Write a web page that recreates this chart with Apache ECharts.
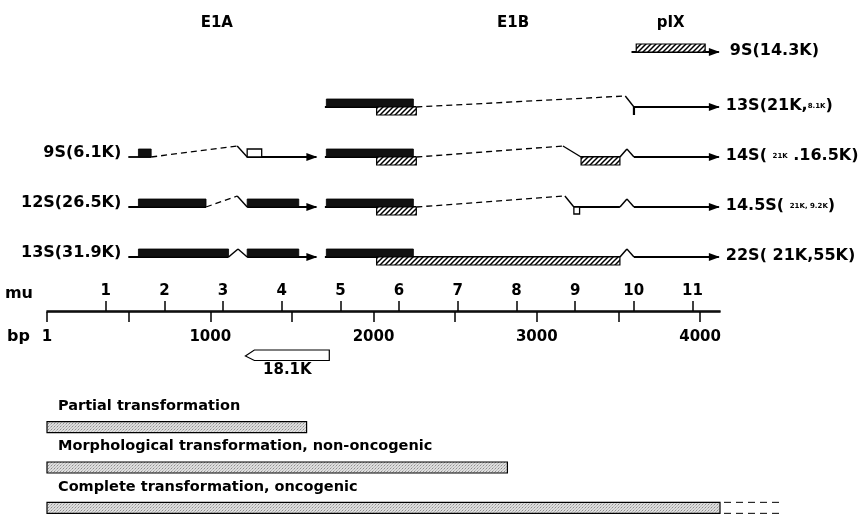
<!DOCTYPE html>
<html>
<head>
<meta charset="utf-8">
<script src="https://cdn.jsdelivr.net/npm/echarts@6.0.0/dist/echarts.min.js"></script>
<style>html,body{margin:0;padding:0;background:#fff;}#chart{width:863px;height:514px;}</style>
</head>
<body>
<div id="chart"></div>
<script>
// ---------------- data (bp coordinates) ----------------
const BP_MAX = 4122;
const BP_PER_MU = 359.4;
const bpTickValues = [0, 500, 1000, 1500, 2000, 2500, 3000, 3500, 4000];
const bpLabelValues = [0, 1000, 2000, 3000, 4000];
const muLabelValues = [1, 2, 3, 4, 5, 6, 7, 8, 9, 10, 11];

const regionNames = ['E1A', 'E1B', 'pIX'];
const regionCenters = [1040, 2855, 3820];

const transcriptRows = ['pIX', 'E1B 13S', 'E1A 9S / E1B 14S', 'E1A 12S / E1B 14.5S', 'E1A 13S / E1B 22S'];
const leftLabels = ['', '', '9S(6.1K)', '12S(26.5K)', '13S(31.9K)'];
const rightLabels = ['9S(14.3K)', '13S(21K,{s|8.1K})', '14S( {s|21K} .16.5K)', '14.5S( {s|21K, 9.2K})', '22S( 21K,55K)'];
const E1A_CAP = 498;
const MRNA_END = 4115;

// [row, start, end]
const lineSegments = [
  [0, 3580, 4115],
  [1, 1702, 2260], [1, 3595, 4115],
  [2, 498, 638], [2, 1226, 1650], [2, 1702, 2260], [2, 3271, 3509], [2, 3595, 4115],
  [3, 498, 974], [3, 1226, 1650], [3, 1702, 2260], [3, 3227, 3509], [3, 3595, 4115],
  [4, 498, 1112], [4, 1226, 1650], [4, 1702, 3509], [4, 3595, 4115]
];
// [row, tip]
const arrowTips = [[0, 4115], [1, 4115], [2, 1650], [2, 4115], [3, 1650], [3, 4115], [4, 1650], [4, 4115]];
// [row, start, end]
const blackExons = [
  [1, 1711, 2244],
  [2, 560, 638], [2, 1711, 2244],
  [3, 560, 974], [3, 1226, 1542], [3, 1711, 2244],
  [4, 560, 1112], [4, 1226, 1542], [4, 1711, 2244]
];
const hatchedBelow = [[1, 2019, 2262], [2, 2019, 2262], [2, 3271, 3509], [3, 2019, 2262], [4, 2019, 3509]];
const hatchedAbove = [[0, 3609, 4031]];
const openAbove = [[2, 1226, 1315]];
const openBelow = [[3, 3227, 3262]];
// [row, donor, peak, acceptor, dashed(1)/short(0)]
const introns = [
  [1, 2262, 3542, 3595, 1],
  [2, 638, 1165, 1226, 1], [2, 2262, 3160, 3271, 1], [2, 3509, 3552, 3595, 0],
  [3, 974, 1165, 1226, 1], [3, 2262, 3172, 3227, 1], [3, 3509, 3552, 3595, 0],
  [4, 1112, 1170, 1226, 0], [4, 3509, 3552, 3595, 0]
];
const ticksDown = [[1, 3595]];

const orfName = ['18.1K'];
const orfStart = [1729];
const orfEnd = [1215];

const transformLabels = ['Partial transformation', 'Morphological transformation, non-oncogenic', 'Complete transformation, oncogenic'];
const transformEnds = [1590, 2820, 4122];
const transformUncertainEnds = [0, 0, 4500];

// ---------------- drawing ----------------
const FONT = 'DejaVu Sans';
const LW = 1.8;
const ROW_NUDGE = [-5, 0, 0, 0, 0];
const EXON_H = 8;

function makeHatch() {
  const c = document.createElement('canvas'); c.width = 5; c.height = 5;
  const g = c.getContext('2d');
  g.fillStyle = '#fff'; g.fillRect(0, 0, 5, 5);
  g.strokeStyle = '#000'; g.lineWidth = 1.5;
  g.beginPath();
  g.moveTo(0, 5); g.lineTo(5, 0);
  g.moveTo(-1, 1); g.lineTo(1, -1);
  g.moveTo(4, 6); g.lineTo(6, 4);
  g.stroke();
  return c;
}
function makeStipple() {
  const c = document.createElement('canvas'); c.width = 3; c.height = 3;
  const g = c.getContext('2d');
  g.fillStyle = '#dedede'; g.fillRect(0, 0, 3, 3);
  g.fillStyle = '#8e8e8e';
  g.fillRect(0, 0, 1, 1);
  g.fillStyle = '#b8b8b8';
  g.fillRect(2, 1, 1, 1); g.fillRect(1, 2, 1, 1);
  return c;
}
const HATCH = { image: makeHatch(), repeat: 'repeat' };
const STIPPLE = { image: makeStipple(), repeat: 'repeat' };

function pt(api, bp, row) {
  const p = api.coord([bp, row]);
  return [p[0], p[1] + ROW_NUDGE[row]];
}
function cs(data, render, xi, yi) {
  return { type: 'custom', xAxisIndex: xi || 0, yAxisIndex: yi || 0, data: data.map((d, i) => [i]),
    renderItem: function (params, api) { return render(data[params.dataIndex], api, params.dataIndex); },
    clip: false, silent: true, animation: false };
}
function txt(x, y, text, size, align, vAlign, extra) {
  return { type: 'text', x: x, y: y, style: Object.assign({
    text: text, fill: '#000', fontFamily: FONT, fontWeight: 'bold', fontSize: size,
    align: align, verticalAlign: vAlign }, extra || {}) };
}

const series = [
  // baseline segments
  cs(lineSegments, (d, api) => {
    const a = pt(api, d[1], d[0]), b = pt(api, d[2], d[0]);
    return { type: 'line', shape: { x1: a[0], y1: a[1], x2: b[0], y2: b[1] }, style: { stroke: '#000', lineWidth: LW } };
  }),
  // introns
  cs(introns, (d, api) => {
    const a = pt(api, d[1], d[0]), c = pt(api, d[3], d[0]);
    const h = d[4] ? 11 : 8;
    const p = pt(api, d[2], d[0]); p[1] -= h;
    return { type: 'group', children: [
      { type: 'polyline', shape: { points: [a, p] }, style: { stroke: '#000', lineWidth: d[4] ? 1.3 : 1.5, lineDash: d[4] ? [6, 4] : null, fill: null } },
      { type: 'polyline', shape: { points: [p, c] }, style: { stroke: '#000', lineWidth: 1.4, fill: null } }
    ] };
  }),
  // black exons
  cs(blackExons, (d, api) => {
    const a = pt(api, d[1], d[0]), b = pt(api, d[2], d[0]);
    return { type: 'rect', shape: { x: a[0], y: a[1] - EXON_H, width: b[0] - a[0], height: EXON_H }, style: { fill: '#111', stroke: '#000', lineWidth: 0.8 } };
  }),
  // hatched frames below line
  cs(hatchedBelow, (d, api) => {
    const a = pt(api, d[1], d[0]), b = pt(api, d[2], d[0]);
    return { type: 'rect', shape: { x: a[0], y: a[1], width: b[0] - a[0], height: EXON_H }, style: { fill: HATCH, stroke: '#000', lineWidth: 1.2 } };
  }),
  // hatched above (pIX)
  cs(hatchedAbove, (d, api) => {
    const a = pt(api, d[1], d[0]), b = pt(api, d[2], d[0]);
    return { type: 'rect', shape: { x: a[0], y: a[1] - EXON_H, width: b[0] - a[0], height: EXON_H }, style: { fill: HATCH, stroke: '#000', lineWidth: 1.2 } };
  }),
  // open boxes
  cs(openAbove, (d, api) => {
    const a = pt(api, d[1], d[0]), b = pt(api, d[2], d[0]);
    return { type: 'rect', shape: { x: a[0], y: a[1] - EXON_H, width: b[0] - a[0], height: EXON_H }, style: { fill: '#fff', stroke: '#000', lineWidth: 1.3 } };
  }),
  cs(openBelow, (d, api) => {
    const a = pt(api, d[1], d[0]), b = pt(api, d[2], d[0]);
    return { type: 'rect', shape: { x: a[0], y: a[1], width: b[0] - a[0], height: EXON_H - 1 }, style: { fill: '#fff', stroke: '#000', lineWidth: 1.3 } };
  }),
  cs(ticksDown, (d, api) => {
    const a = pt(api, d[1], d[0]);
    return { type: 'line', shape: { x1: a[0], y1: a[1], x2: a[0], y2: a[1] + 8 }, style: { stroke: '#000', lineWidth: 2.2 } };
  }),
  // arrowheads
  cs(arrowTips, (d, api) => {
    const a = pt(api, d[1], d[0]);
    return { type: 'polygon', shape: { points: [[a[0] + 1, a[1]], [a[0] - 10, a[1] - 4], [a[0] - 10, a[1] + 4]] }, style: { fill: '#000' } };
  }),
  // left labels
  cs(leftLabels, (d, api, i) => {
    if (!d) return null;
    const a = pt(api, E1A_CAP, i);
    return txt(a[0] - 7, a[1] - 4, d, 16, 'right', 'middle');
  }),
  // right labels
  cs(rightLabels, (d, api, i) => {
    const a = pt(api, MRNA_END, i);
    return txt(a[0] + (i === 0 ? 11 : 7), a[1] - 1, d, 16, 'left', 'middle',
      { rich: { s: { fontFamily: FONT, fontWeight: 'bold', fontSize: 7, fill: '#000' } } });
  }),
  // region headers
  cs(regionNames, (d, api, i) => {
    const a = pt(api, regionCenters[i], 0);
    return txt(a[0], a[1] - 29, d, 15, 'center', 'middle');
  }),
  // 18.1K leftward ORF
  cs(orfName, (d, api, i) => {
    const s = api.coord([orfStart[i], 0]), e = api.coord([orfEnd[i], 0]);
    const y = s[1];
    return { type: 'group', children: [
      { type: 'polygon', shape: { points: [[e[0], y + 1], [e[0] + 9, y - 5], [s[0], y - 5], [s[0], y + 5.5], [e[0] + 9, y + 5.5]] },
        style: { fill: '#fff', stroke: '#000', lineWidth: 1.2 } },
      txt((s[0] + e[0]) / 2, y + 15, d, 15, 'center', 'middle')
    ] };
  }, 3, 2),
  // transformation bars
  cs(transformLabels, (d, api, i) => {
    const a = api.coord([0, i]), b = api.coord([transformEnds[i], i]);
    const H = 11;
    const kids = [
      { type: 'rect', shape: { x: a[0], y: a[1] - H / 2, width: b[0] - a[0], height: H }, style: { fill: STIPPLE, stroke: '#000', lineWidth: 1.2 } },
      txt(a[0] + 11, a[1] - 21, d, 14.5, 'left', 'middle')
    ];
    if (transformUncertainEnds[i]) {
      const c = api.coord([transformUncertainEnds[i], i]);
      kids.push({ type: 'line', shape: { x1: b[0] + 4, y1: a[1] - H / 2, x2: c[0], y2: a[1] - H / 2 }, style: { stroke: '#000', lineWidth: 1, lineDash: [7, 5] } });
      kids.push({ type: 'line', shape: { x1: b[0] + 4, y1: a[1] + H / 2, x2: c[0], y2: a[1] + H / 2 }, style: { stroke: '#000', lineWidth: 1, lineDash: [7, 5] } });
    }
    return { type: 'group', children: kids };
  }, 4, 3)
];

const GRID_L = 47, GRID_R = 143;
const labelFont = { fontFamily: FONT, fontWeight: 'bold', fontSize: 15, color: '#000' };
const hiddenX = (gi) => ({ gridIndex: gi, type: 'value', min: 0, max: BP_MAX, show: false });

const option = {
  animation: false,
  backgroundColor: '#fff',
  textStyle: { fontFamily: FONT },
  grid: [
    { left: GRID_L, right: GRID_R, top: 32, height: 250, outerBoundsMode: 'none' },
    { left: GRID_L, right: GRID_R, top: 311, height: 1, outerBoundsMode: 'none' },
    { left: GRID_L, right: GRID_R, top: 345, height: 20, outerBoundsMode: 'none' },
    { left: GRID_L, right: GRID_R, top: 407, height: 121, outerBoundsMode: 'none' }
  ],
  xAxis: [
    hiddenX(0),
    { gridIndex: 1, type: 'value', min: 0, max: BP_MAX, position: 'bottom',
      name: 'bp', nameLocation: 'start', nameGap: 17, nameMoveOverlap: false,
      nameTextStyle: Object.assign({}, labelFont, { fontSize: 16, verticalAlign: 'top', padding: [17, 0, 0, 0] }),
      axisLine: { onZero: false, lineStyle: { color: '#000', width: 1.6 } },
      axisTick: { show: true, length: 10, customValues: bpTickValues, lineStyle: { color: '#000', width: 1.5 } },
      axisLabel: Object.assign({ customValues: bpLabelValues, margin: 18, formatter: v => (v === 0 ? '1' : String(v)) }, labelFont),
      splitLine: { show: false } },
    { gridIndex: 1, type: 'value', min: 0, max: BP_MAX / BP_PER_MU, position: 'top',
      name: 'mu', nameLocation: 'start', nameGap: 14, nameMoveOverlap: false,
      nameTextStyle: Object.assign({}, labelFont, { fontSize: 16, verticalAlign: 'bottom', padding: [0, 0, 9, 0] }),
      axisLine: { onZero: false, lineStyle: { color: '#000', width: 1.6 } },
      axisTick: { show: true, length: 10, customValues: muLabelValues, lineStyle: { color: '#000', width: 1.5 } },
      axisLabel: Object.assign({ customValues: muLabelValues, margin: 12, formatter: v => String(Math.round(v)) }, labelFont),
      splitLine: { show: false } },
    hiddenX(2),
    hiddenX(3)
  ],
  yAxis: [
    { gridIndex: 0, type: 'category', data: transcriptRows, inverse: true, show: false },
    { gridIndex: 1, type: 'value', min: 0, max: 1, show: false },
    { gridIndex: 2, type: 'category', data: orfName, show: false },
    { gridIndex: 3, type: 'category', data: transformLabels, inverse: true, show: false }
  ],
  series: series
};
const chart = echarts.init(document.getElementById('chart'), null, { renderer: 'canvas' });
chart.setOption(option);
</script>
</body>
</html>
